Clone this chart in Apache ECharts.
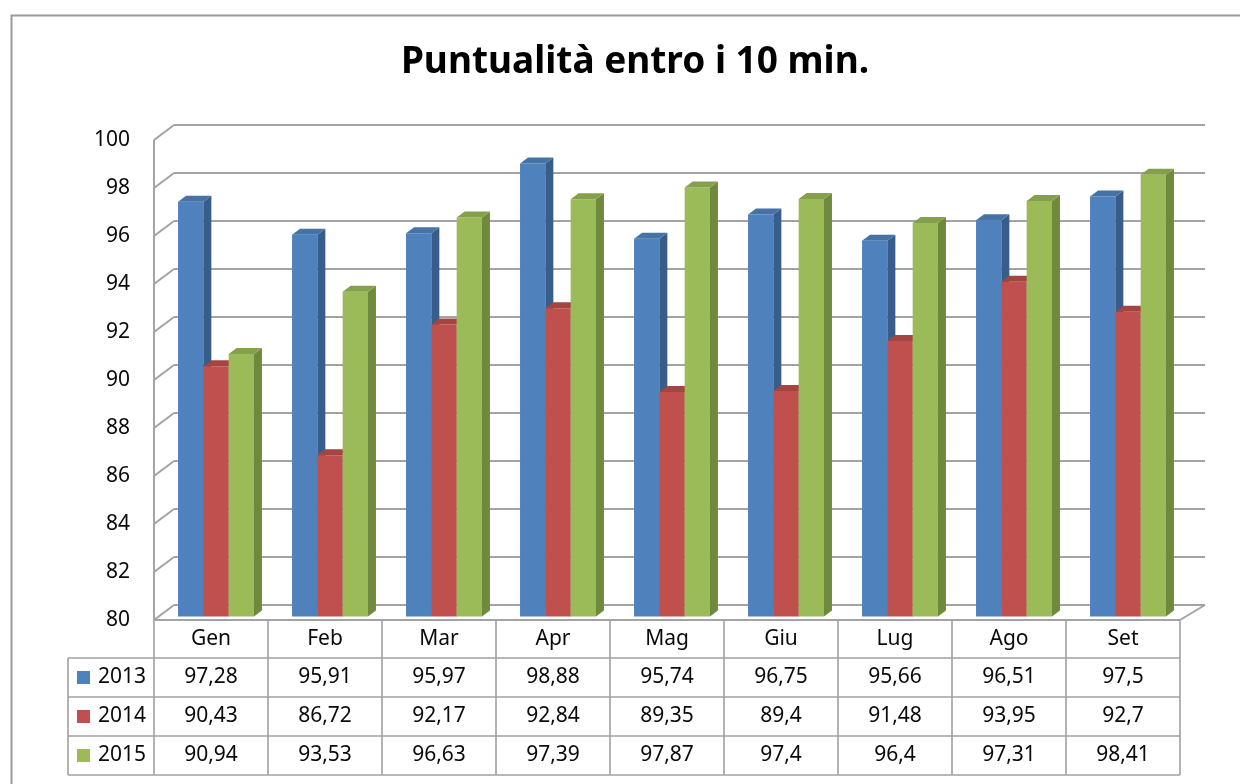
<!DOCTYPE html>
<html><head><meta charset="utf-8">
<script src="https://cdn.jsdelivr.net/npm/echarts@6/dist/echarts.min.js"></script>
<style>html,body{margin:0;padding:0;background:#fff}#c{width:1240px;height:784px}</style>
</head><body><div id="c"></div>
<script>
// ---- data ----
const categories = ['Gen','Feb','Mar','Apr','Mag','Giu','Lug','Ago','Set'];
const years = ['2013','2014','2015'];
const values2013 = [97.28,95.91,95.97,98.88,95.74,96.75,95.66,96.51,97.5];
const values2014 = [90.43,86.72,92.17,92.84,89.35,89.4,91.48,93.95,92.7];
const values2015 = [90.94,93.53,96.63,97.39,97.87,97.4,96.4,97.31,98.41];
const yTicks = [80,82,84,86,88,90,92,94,96,98,100];
const seriesValues = [values2013, values2014, values2015];

// ---- style ----
const FONT = 'Noto Sans';
const TXT = 21;
const faceColors = [
  {front:'#4F81BD', side:'#385D8A', top:'#4572A7'},
  {front:'#C0504D', side:'#8C3A38', top:'#A44542'},
  {front:'#9BBB59', side:'#6F8A3D', top:'#84A04A'}
];
const GRID_COLOR = '#a3a3a3';
const TABLE_COLOR = '#a0a0a0';
const yMin = yTicks[0], yMax = yTicks[yTicks.length-1];
const DXL = 20, DXR = 25, DY = -15;

const fmt = v => String(v).replace('.', ',');

function gridRender(params, api){
  const v = api.value(1);
  const band = api.size([1,0])[0];
  const p0 = api.coord([0, v]);
  const pn = api.coord([categories.length-1, v]);
  const fl = p0[0] - band/2, fr = pn[0] + band/2, y = p0[1];
  const ls = {stroke: GRID_COLOR, lineWidth: 2};
  const ch = [
    {type:'line', shape:{x1:fl, y1:y, x2:fl+DXL, y2:y+DY}, style:ls},
    {type:'line', shape:{x1:fl+DXL, y1:y+DY, x2:fr+DXR, y2:y+DY}, style:ls}
  ];
  if (v === yMin){
    ch.push({type:'line', shape:{x1:fl, y1:y, x2:fr, y2:y}, style:ls});
    ch.push({type:'line', shape:{x1:fr, y1:y, x2:fr+DXR, y2:y+DY}, style:ls});
  }
  if (v === yMax){
    const yb = api.coord([0, yMin])[1];
    ch.push({type:'line', shape:{x1:fl, y1:y, x2:fl, y2:yb}, style:ls});
  }
  return {type:'group', children:ch};
}

function barRender(k){
  const c = faceColors[k];
  return function(params, api){
    const i = api.value(0), v = api.value(1);
    const base = api.coord([i, yMin]);
    const top = api.coord([i, v]);
    const band = api.size([1,0])[0];
    const bw = band*0.222;
    const sx = 5, sy = -3.5, dx = 8, dy = -6;
    const x0 = base[0] - 1.5*bw + k*bw + sx;
    const x1 = x0 + bw;
    const yb = base[1] + sy, yt = top[1] + sy;
    return {type:'group', children:[
      {type:'rect', shape:{x:x0, y:yt, width:bw, height:yb-yt}, style:{fill:c.front}},
      {type:'polygon', shape:{points:[[x1,yt],[x1+dx,yt+dy],[x1+dx,yb+dy],[x1,yb]]}, style:{fill:c.side}},
      {type:'polygon', shape:{points:[[x0,yt],[x0+dx,yt+dy],[x1+dx,yt+dy],[x1,yt]]}, style:{fill:c.top}}
    ]};
  };
}

function tableRender(params, api){
  const i = api.value(0);
  const c = api.coord([i, yMin]);
  const band = api.size([1,0])[0];
  const left = c[0] - band/2, right = c[0] + band/2, fy = c[1];
  const rowTop = fy + 38, rowH = 39;
  const bottom = rowTop + rowH*years.length;
  const ls = {stroke: TABLE_COLOR, lineWidth: 1.6};
  const ch = [];
  ch.push({type:'line', shape:{x1:left, y1:fy, x2:left, y2:bottom}, style:ls});
  if (i === categories.length-1)
    ch.push({type:'line', shape:{x1:right, y1:fy, x2:right, y2:bottom}, style:ls});
  for (let r=0; r<=years.length; r++){
    const y = rowTop + r*rowH;
    ch.push({type:'line', shape:{x1:left, y1:y, x2:right, y2:y}, style:ls});
  }
  for (let k=0; k<years.length; k++){
    ch.push({type:'text', style:{text: fmt(seriesValues[k][i]), x:c[0], y: rowTop + rowH*(k+0.5),
      align:'center', verticalAlign:'middle', fontFamily:FONT, fontSize:TXT, fill:'#0a0a0a'}});
  }
  if (i === 0){
    const hl = left - 86;
    ch.push({type:'line', shape:{x1:hl, y1:rowTop, x2:hl, y2:bottom}, style:ls});
    for (let r=0; r<=years.length; r++){
      const y = rowTop + r*rowH;
      ch.push({type:'line', shape:{x1:hl, y1:y, x2:left, y2:y}, style:ls});
    }
    for (let k=0; k<years.length; k++){
      const yc = rowTop + rowH*(k+0.5);
      ch.push({type:'rect', shape:{x:hl+9, y:yc-6.5, width:13, height:13}, style:{fill:faceColors[k].front}});
      ch.push({type:'text', style:{text: years[k], x:hl+30, y:yc, align:'left', verticalAlign:'middle',
        fontFamily:FONT, fontSize:TXT, fill:'#0a0a0a'}});
    }
  }
  return {type:'group', children:ch};
}

const chart = echarts.init(document.getElementById('c'), null, {renderer:'canvas'});
const series = [
  {type:'custom', name:'grid', renderItem:gridRender, data: yTicks.map(v=>[0,v]), clip:false, silent:true, z:1, encode:{x:0,y:1}}
];
years.forEach((y,k)=>{
  series.push({type:'custom', name:y, renderItem:barRender(k), clip:false, z:2,
    data: seriesValues[k].map((v,i)=>[i,v]), encode:{x:0,y:1}});
});
series.push({type:'custom', name:'table', renderItem:tableRender, clip:false, silent:true, z:3,
  data: categories.map((c,i)=>[i, yMin]), encode:{x:0,y:1}});

chart.setOption({
  animation:false,
  backgroundColor:'#fff',
  title:{text:'Puntualità entro i 10 min.', left:630, top:39, textAlign:'center',
    textStyle:{fontFamily:FONT, fontWeight:'bold', fontSize:37, color:'#000'}},
  grid:{left:154, top:140, width:1026, height:480, containLabel:false},
  xAxis:{type:'category', data:categories, axisLine:{show:false}, axisTick:{show:false},
    splitLine:{show:false},
    axisLabel:{margin:19, verticalAlign:'middle', fontFamily:FONT, fontSize:TXT, color:'#0a0a0a'}},
  yAxis:{type:'value', min:yMin, max:yMax, interval:2, axisLine:{show:false}, axisTick:{show:false},
    splitLine:{show:false},
    axisLabel:{margin:24, fontFamily:FONT, fontSize:TXT, color:'#0a0a0a'}},
  graphic:[{type:'rect', left:9, top:13, shape:{width:1300, height:900}, style:{fill:'none', stroke:'#9a9a9a', lineWidth:2}, z:-1}],
  series
});
</script></body></html>
